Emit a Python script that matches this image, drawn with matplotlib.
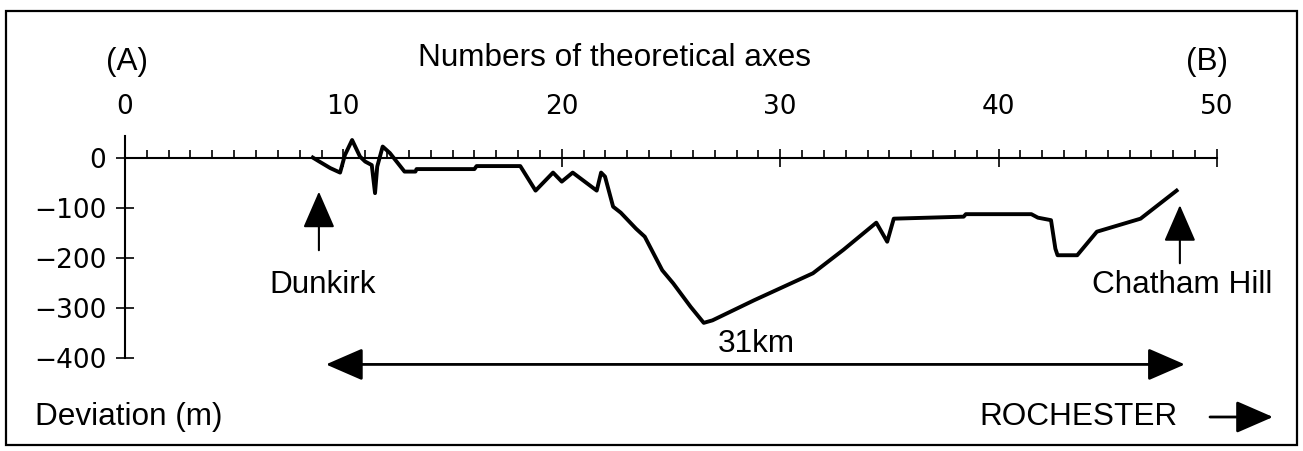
import matplotlib
matplotlib.use("Agg")
import matplotlib.pyplot as plt
from matplotlib.patches import Rectangle
from matplotlib.ticker import MultipleLocator

# profile: number of theoretical axes vs deviation (m)
axes_num = [8.6, 8.9, 9.4, 9.85, 10.07, 10.4, 10.76, 11.0, 11.3, 11.45, 11.55,
            11.8, 12.13, 12.8, 13.3, 13.35, 16.0, 16.1, 18.1, 18.8, 19.6, 20.0,
            20.5, 21.6, 21.8, 21.98, 22.35, 22.7, 23.4, 23.8, 24.6, 25.1, 25.9,
            26.5, 26.9, 28.8, 31.5, 32.9, 34.4, 34.9, 35.2, 38.4, 38.5, 41.5,
            41.8, 42.4, 42.6, 42.7, 43.6, 44.5, 46.5, 48.15]
deviation = [0, -8, -21, -30, 5, 35, 2, -8, -15, -71, -18,
             22, 9, -28, -28, -23, -23, -17, -17, -66, -30, -48,
             -30, -66, -30, -38, -98, -110, -142, -158, -225, -251, -298,
             -330, -325, -285, -231, -184, -130, -168, -122, -118, -113, -113,
             -120, -125, -182, -195, -195, -148, -122, -66]

x_ticks = [0, 10, 20, 30, 40, 50]
y_ticks = [0, -100, -200, -300, -400]

text_font = "Liberation Sans"

fig = plt.figure(figsize=(13.03, 4.51), dpi=100)
fig.patches.append(Rectangle((6 / 1303, 1 - 445 / 451), 1291 / 1303, 434 / 451,
                             transform=fig.transFigure, fill=False,
                             edgecolor="black", linewidth=1.6))

ax = fig.add_axes([0.0959, 0.2064, 0.8381, 0.4931])
ax.plot(axes_num, deviation, color="black", linewidth=2.8)
ax.set_xlim(0, 50)
ax.set_ylim(-400, 44)

for side in ["top", "right"]:
    ax.spines[side].set_visible(False)
ax.spines["bottom"].set_position(("data", 0))
ax.spines["bottom"].set_linewidth(1.5)
ax.spines["left"].set_linewidth(1.5)

ax.set_xticks(x_ticks)
ax.xaxis.set_minor_locator(MultipleLocator(1))
ax.set_yticks(y_ticks)
ax.tick_params(axis="x", which="major", direction="inout", length=13, width=1.2,
               labeltop=True, labelbottom=False, top=False, pad=5, labelsize=19)
ax.tick_params(axis="x", which="minor", direction="in", length=6, width=1.2, top=False)
ax.tick_params(axis="y", which="major", direction="inout", length=13, width=1.2,
               pad=7, labelsize=19)

# annotations
arrow_head = "-|>,head_length=23,head_width=10"
ax.annotate("", xy=(8.88, -68), xytext=(8.88, -185), annotation_clip=False,
            arrowprops=dict(arrowstyle=arrow_head, mutation_scale=1, color="black",
                            lw=1.5, shrinkA=0, shrinkB=0))
ax.annotate("", xy=(48.3, -95), xytext=(48.3, -211), annotation_clip=False,
            arrowprops=dict(arrowstyle=arrow_head, mutation_scale=1, color="black",
                            lw=1.5, shrinkA=0, shrinkB=0))
ax.annotate("", xy=(48.53, -413), xytext=(9.2, -413), annotation_clip=False,
            arrowprops=dict(arrowstyle="<|-|>,head_length=23,head_width=10",
                            mutation_scale=1, color="black", lw=2,
                            shrinkA=0, shrinkB=0))
ax.text(9.07, -255, "Dunkirk", family=text_font, fontsize=22.7,
        ha="center", va="center", clip_on=False)
ax.text(48.4, -255, "Chatham Hill", family=text_font, fontsize=22.7,
        ha="center", va="center", clip_on=False)
ax.text(28.9, -372, "31km", family=text_font, fontsize=22.7,
        ha="center", va="center", clip_on=False)

fig.text(615 / 1303, 1 - 58 / 451, "Numbers of theoretical axes", family=text_font,
         fontsize=22.7, ha="center", va="center")
fig.text(127 / 1303, 1 - 62 / 451, "(A)", family=text_font, fontsize=22.7,
         ha="center", va="center")
fig.text(1207 / 1303, 1 - 62 / 451, "(B)", family=text_font, fontsize=22.7,
         ha="center", va="center")
fig.text(35 / 1303, 1 - 417 / 451, "Deviation (m)", family=text_font, fontsize=22.7,
         ha="left", va="center")
fig.text(1178 / 1303, 1 - 417 / 451, "ROCHESTER", family=text_font, fontsize=22.7,
         ha="right", va="center")
fig.add_artist(plt.matplotlib.text.Annotation(
    "", xy=(1273 / 1303, 1 - 417 / 451), xytext=(1210 / 1303, 1 - 417 / 451),
    xycoords="figure fraction", textcoords="figure fraction",
    arrowprops=dict(arrowstyle=arrow_head, mutation_scale=1, color="black",
                    lw=2, shrinkA=0, shrinkB=0)))

fig.savefig("out.png", dpi=100)
